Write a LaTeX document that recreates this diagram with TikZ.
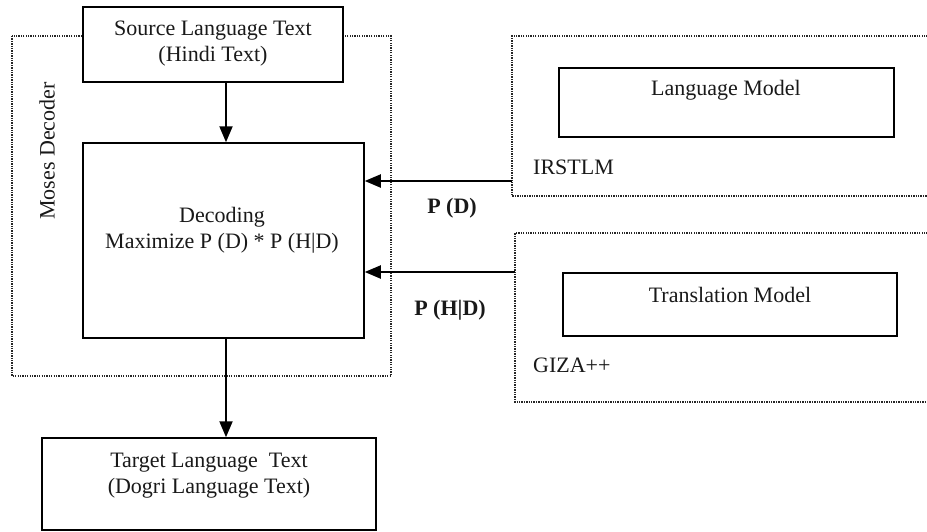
\documentclass[tikz,border=0pt]{standalone}
\usepackage{fontspec}
\setmainfont{Liberation Serif}
\usetikzlibrary{arrows.meta}

\tikzset{
  solidbox/.style={draw=black, line width=1.5pt, fill=white, inner sep=0pt},
  dotgroup/.style={draw=black!85, line width=1.6pt, dash pattern=on 1.3pt off 1.1pt},
  txt/.style={font=\fontsize{22}{26}\selectfont, text=black!90, align=center, inner sep=0pt},
  boldtxt/.style={txt, font=\fontsize{22}{26}\selectfont\bfseries},
  arr/.style={line width=2pt, -{Triangle[length=16pt,width=13pt]}},
}

\begin{document}
\begin{tikzpicture}[x=1pt,y=-1pt]
  \useasboundingbox (0,0) rectangle (927,531);

  % dotted groups
  \draw[dotgroup] (12,36) rectangle (391,376);
  \draw[dotgroup] (930,36) -- (512,36) -- (512,196) -- (930,196);
  \draw[dotgroup] (930,233) -- (515,233) -- (515,402) -- (930,402);

  % boxes
  \node[solidbox, minimum width=260pt, minimum height=75pt] (src) at (213,44.5) {};
  \node[solidbox, minimum width=281pt, minimum height=195pt] (dec) at (223.5,240.5) {};
  \node[solidbox, minimum width=334pt, minimum height=92pt] (tgt) at (209,484) {};
  \node[solidbox, minimum width=335pt, minimum height=69pt] (lm) at (726.5,102.5) {};
  \node[solidbox, minimum width=334pt, minimum height=63pt] (tm) at (730,304.5) {};

  % texts
  \node[txt] (srctxt) at (213,44) {Source Language Text\\(Hindi Text)};
  \node[txt] (dectxt) at (222,230) {Decoding\\Maximize P (D) * P (H|D)};
  \node[txt] (tgttxt) at (209,475.5) {Target Language\ \ Text\\(Dogri Language Text)};
  \node[txt] (lmtxt) at (726,90) {Language Model};
  \node[txt] (tmtxt) at (730,295) {Translation Model};
  \node[txt, anchor=west] (irst) at (533,167) {IRSTLM};
  \node[txt, anchor=west] (giza) at (533,365) {GIZA++};
  \node[txt, rotate=90] (moses) at (47,151) {Moses Decoder};
  \node[boldtxt] (pd) at (452,208) {P (D)};
  \node[boldtxt] (phd) at (450,310) {P (H|D)};

  % connectors
  \coordinate (axis) at ([xshift=2.5pt]dec.north);
  \coordinate (lmport) at (512,181);
  \coordinate (tmport) at (515,272);
  \draw[arr] (src.south -| axis) -- (axis);
  \draw[arr] (dec.south -| axis) -- (tgt.north -| axis);
  \draw[arr] (lmport) -- (lmport -| dec.east);
  \draw[arr] (tmport) -- (tmport -| dec.east);
\end{tikzpicture}
\end{document}
